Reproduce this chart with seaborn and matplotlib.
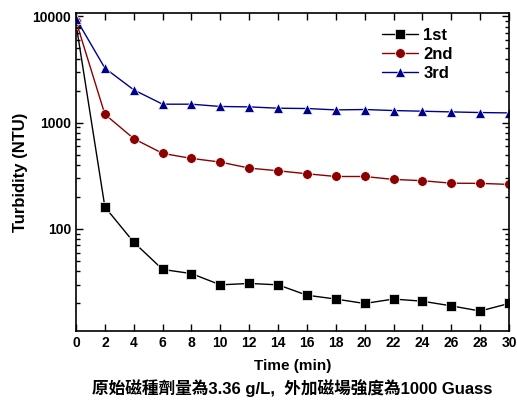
import matplotlib
matplotlib.use("Agg")
import matplotlib.pyplot as plt
import seaborn as sns
import pandas as pd
from matplotlib.ticker import LogLocator, FixedLocator, NullFormatter

time = [0, 2, 4, 6, 8, 10, 12, 14, 16, 18, 20, 22, 24, 26, 28, 30]
first = [8500, 161, 75, 41.6, 38, 29.8, 30.7, 29.8, 23.8, 21.9, 19.9, 21.9, 20.9, 18.9, 16.9, 19.9]
second = [9000, 1197, 706, 513, 460, 425, 373, 352, 330, 311, 311, 292, 284, 269, 268, 262]
third = [9500, 3250, 2030, 1488, 1488, 1416, 1404, 1364, 1355, 1315, 1326, 1297, 1278, 1259, 1242, 1232]
series_names = ["1st", "2nd", "3rd"]
x_ticks = list(range(0, 31, 2))
y_ticks = [100, 1000, 10000]
x_label = "Time (min)"
y_label = "Turbidity (NTU)"
caption = "原始磁種劑量為3.36 g/L,  外加磁場強度為1000 Guass"

df = pd.DataFrame({
    "time": time * 3,
    "value": first + second + third,
    "series": sum([[n] * len(time) for n in series_names], []),
})

sns.set_style("ticks", {"axes.edgecolor": "black", "text.color": "black",
                        "axes.labelcolor": "black", "xtick.color": "black",
                        "ytick.color": "black"})
plt.rcParams['font.family'] = ['Liberation Sans', 'Noto Sans CJK TC', 'DejaVu Sans']

fig = plt.figure(figsize=(5.17, 4.03), dpi=100)
ax = fig.add_axes([0.147, 0.179, 0.8375, 0.789])

palette = {"1st": "black", "2nd": "#8b0000", "3rd": "#000090"}
markers = {"1st": "s", "2nd": "o", "3rd": "^"}
sns.lineplot(data=df, x="time", y="value", hue="series", style="series",
             palette=palette, markers=markers, dashes=False, ax=ax,
             linewidth=1.0, markersize=7, markeredgewidth=0.5)

ax.set_yscale("log")
ax.set_xlim(0, 30)
ax.set_ylim(11, 10740)
ax.xaxis.set_major_locator(FixedLocator(x_ticks))
ax.yaxis.set_major_locator(FixedLocator(y_ticks))
ax.yaxis.set_minor_locator(LogLocator(base=10, subs=range(2, 10)))
ax.yaxis.set_minor_formatter(NullFormatter())
ax.set_yticklabels([str(v) for v in y_ticks])
ax.tick_params(which="both", direction="in", top=True, right=True, width=1,
               color="black", labelcolor="black")
ax.tick_params(which="major", length=5)
ax.tick_params(which="minor", length=3)
for lbl in ax.get_xticklabels() + ax.get_yticklabels():
    lbl.set_fontweight("bold")
    lbl.set_fontsize(10)
for s in ax.spines.values():
    s.set_linewidth(1.2)
    s.set_color("black")

ax.set_xlabel(x_label, fontsize=11, fontweight="bold", labelpad=7, color="black")
ax.set_ylabel(y_label, fontsize=12, fontweight="bold", labelpad=3, color="black")

leg = ax.legend(loc="upper right", bbox_to_anchor=(0.905, 1.0), frameon=False,
                prop={"weight": "bold", "size": 12}, handlelength=2.2,
                handletextpad=0.3, labelspacing=0.25)
for t in leg.get_texts():
    t.set_color("black")

fig.text(0.565, 0.037, caption, ha="center", va="center", fontsize=12,
         fontweight="bold", color="black",
         family=['Liberation Sans', 'Noto Sans CJK TC'])

fig.savefig("out.png", dpi=100)
